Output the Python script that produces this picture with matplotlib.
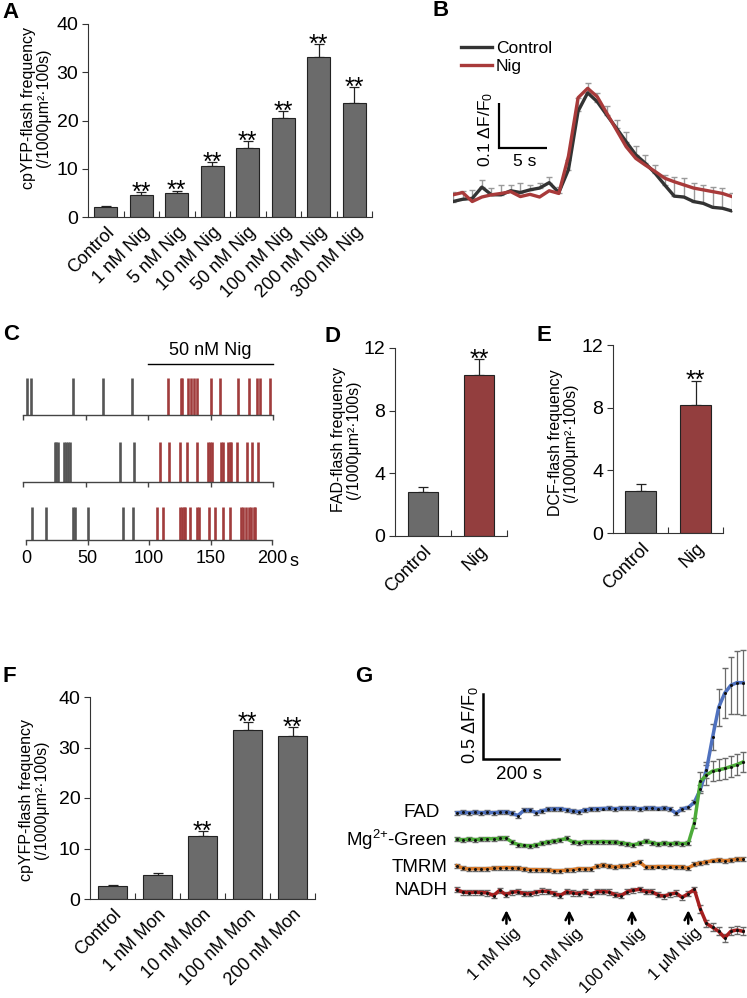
import numpy as np
import matplotlib.pyplot as plt

plt.rcParams['font.family'] = ['Liberation Sans', 'DejaVu Sans']
plt.rcParams['mathtext.fontset'] = 'custom'
plt.rcParams['mathtext.rm'] = 'Liberation Sans'
plt.rcParams['mathtext.it'] = 'Liberation Sans:italic'
plt.rcParams['mathtext.bf'] = 'Liberation Sans:bold'

W, H = 747, 998

# ---------------- data ----------------
# A: cpYFP flash frequency vs nigericin
a_labels = ['Control', '1 nM Nig', '5 nM Nig', '10 nM Nig', '50 nM Nig',
            '100 nM Nig', '200 nM Nig', '300 nM Nig']
a_values = [2.0, 4.6, 5.0, 10.5, 14.4, 20.6, 33.2, 23.7]
a_errors = [0.2, 0.5, 0.45, 0.8, 1.4, 1.4, 2.6, 3.3]
a_stars = [False, True, True, True, True, True, True, True]

# B: averaged flash traces (1 s sampling)
b_time = list(range(30))
b_control = [-0.011, -0.006, -0.004, 0.021, 0.004, 0.004, 0.013, 0.009, 0.015, 0.019,
             0.031, 0.009, 0.06, 0.19, 0.231, 0.211, 0.181, 0.152, 0.122, 0.093,
             0.074, 0.052, 0.026, 0.001, -0.001, -0.011, -0.015, -0.024, -0.026, -0.032]
b_nig = [0.004, 0.009, -0.011, -0.001, 0.004, 0.007, 0.011, 0.0, 0.005, -0.001,
         0.013, 0.007, 0.09, 0.22, 0.241, 0.222, 0.185, 0.148, 0.111, 0.085,
         0.070, 0.056, 0.041, 0.033, 0.026, 0.019, 0.015, 0.011, 0.007, 0.0]
b_control_err = [0.022, 0.019, 0.019, 0.016, 0.015, 0.022, 0.013, 0.021, 0.011, 0.011,
                 0.012, 0.013, 0.022, 0.030, 0.022, 0.019, 0.020, 0.019, 0.022, 0.019,
                 0.019, 0.019, 0.022, 0.043, 0.042, 0.041, 0.041, 0.046, 0.044, 0.041]

# C: flash event times (s) in three mitochondria
c_before = [[3, 6, 40, 64, 87],
            [25.3, 26.7, 28, 32.5, 34.4, 36.3, 37.9, 77.3, 89.1],
            [5.2, 16, 38.5, 39.9, 50.7, 78.7, 86.8]]
c_after = [[116, 126, 127.5, 132, 134, 136.5, 139.5, 150.5, 157.5, 172, 180.5, 187.5,
            189.5, 197.5],
           [109.3, 116.5, 125.9, 131.2, 139.2, 148, 149.9, 151.2, 158.7, 160, 164, 165.3,
            166.7, 171.2, 179.2, 183.2, 187.7],
           [106.4, 111, 125.4, 126.7, 128.1, 129.4, 133, 139, 140.8, 148.4, 153.9, 160.1,
            166.1, 174.8, 176.1, 178.8, 181, 182.9, 185.1, 186.4]]
c_ticks = [0, 50, 100, 150, 200]

# D / E
de_labels = ['Control', 'Nig']
d_values = [2.8, 10.3]
d_errors = [0.35, 1.0]
e_values = [2.7, 8.2]
e_errors = [0.44, 1.53]

# F: monensin
f_labels = ['Control', '1 nM Mon', '10 nM Mon', '100 nM Mon', '200 nM Mon']
f_values = [2.6, 4.8, 12.5, 33.5, 32.3]
f_errors = [0.12, 0.33, 1.0, 1.55, 1.7]
f_stars = [False, False, True, True, True]

# G: multi-parameter traces (16 s sampling)
g_time = np.arange(48) * 16
g_fad = [0.0, 0.002, 0.0, 0.003, 0.0, 0.002, 0.0, 0.003, 0.006, -0.004,
         -0.022, 0.018, 0.02, 0.0, 0.015, 0.026, 0.028, 0.03, 0.022, 0.012,
         0.008, 0.02, 0.026, 0.03, 0.032, 0.034, 0.03, 0.034, 0.036, 0.034,
         0.03, 0.034, 0.036, 0.032, 0.034, 0.03, -0.005, 0.03, 0.04, 0.08,
         0.18, 0.33, 0.58, 0.81, 0.92, 0.98, 1.0, 1.0]
g_fad_err = [0.015] * 40 + [0.03, 0.06, 0.1, 0.14, 0.19, 0.22, 0.24, 0.25]
g_mg = [0.005, 0.0, 0.008, 0.002, 0.006, 0.01, 0.008, 0.012, 0.018, -0.015,
        -0.035, -0.042, -0.046, -0.04, -0.025, -0.015, -0.008, 0.0, 0.012, -0.015,
        -0.02, -0.015, -0.013, -0.015, -0.012, -0.015, -0.018, -0.022, -0.03, -0.038,
        -0.025, -0.01, -0.02, -0.032, -0.025, -0.028, -0.026, -0.028, -0.026, 0.13,
        0.45, 0.5, 0.53, 0.54, 0.55, 0.565, 0.58, 0.6]
g_mg_err = [0.015] * 39 + [0.04, 0.07, 0.08, 0.08, 0.08, 0.08, 0.08, 0.08, 0.08]
g_tmrm = [0.01, -0.01, -0.015, -0.012, -0.015, -0.012, -0.01, -0.006, -0.004, -0.006,
          -0.01, -0.015, -0.02, -0.02, -0.022, -0.025, -0.028, -0.028, -0.025, -0.02,
          -0.012, -0.015, -0.015, 0.005, 0.015, 0.005, 0.0, 0.005, 0.01, 0.025,
          0.04, 0.0, 0.0, 0.004, 0.003, 0.004, 0.002, 0.0, -0.008, 0.02,
          0.03, 0.038, 0.05, 0.054, 0.048, 0.052, 0.06, 0.06]
g_tmrm_err = [0.015] * 48
g_nadh = [0.01, -0.01, -0.012, -0.01, -0.012, -0.015, -0.035, 0.005, -0.028, -0.01,
          -0.005, -0.02, -0.022, -0.01, 0.0, -0.005, -0.02, -0.035, -0.005, -0.015,
          -0.02, -0.005, -0.025, -0.005, -0.005, -0.008, -0.03, -0.035, -0.005, 0.005,
          0.013, -0.005, -0.005, -0.03, -0.04, -0.025, -0.015, -0.05, -0.02, 0.012,
          -0.14, -0.25, -0.28, -0.31, -0.36, -0.31, -0.3, -0.31]
g_nadh_err = [0.02] * 40 + [0.03] * 8
g_names = ['FAD', 'Mg$^{2{+}}$-Green', 'TMRM', 'NADH']
g_arrow_times = [130, 295, 460, 608]
g_arrow_labels = ['1 nM Nig', '10 nM Nig', '100 nM Nig', '1 μM Nig']

GRAY = '#6b6b6b'
RED = '#933e3e'
EDGE = '#222222'

fig = plt.figure(figsize=(W / 100, H / 100), dpi=100)


def add_ax(x0, y0, x1, y1):
    # axes from pixel box (top-left origin)
    return fig.add_axes([x0 / W, 1 - y1 / H, (x1 - x0) / W, (y1 - y0) / H])


def ftext(x, y, s, **kw):
    return fig.text(x / W, 1 - y / H, s, **kw)


def bar_panel(box, labels, values, errors, colors, stars, ymax, yticks,
              ylabel, ylab_xy, width):
    ax = add_ax(*box)
    n = len(values)
    x = np.arange(n)
    ax.bar(x, values, width=width, color=colors, edgecolor=EDGE, linewidth=0.8, zorder=2)
    ax.errorbar(x, values, yerr=[np.zeros(n), errors], fmt='none', ecolor=EDGE,
                elinewidth=0.9, capsize=3.5, capthick=0.9, zorder=1)
    for i in range(n):
        if stars[i]:
            ax.annotate('**', (i, values[i] + errors[i]), xytext=(0, -5.5),
                        textcoords='offset points', ha='center', va='baseline',
                        fontsize=18)
    ax.set_xlim(-0.5, n - 0.5)
    ax.set_ylim(0, ymax)
    ax.set_yticks(yticks)
    ax.set_xticks(x)
    ax.set_xticklabels(labels, rotation=45, ha='right', rotation_mode='anchor',
                       fontsize=13)
    ax.set_xticks(np.arange(0.5, n, 1), minor=True)
    ax.tick_params(axis='x', which='major', length=0, pad=5)
    ax.tick_params(axis='x', which='minor', direction='in', length=4, width=0.8,
                   color='#333333')
    ax.tick_params(axis='y', direction='out', length=4, width=0.8, labelsize=14,
                   pad=3, color='#333333')
    for s in ['top', 'right']:
        ax.spines[s].set_visible(False)
    for s in ['left', 'bottom']:
        ax.spines[s].set_linewidth(0.8)
        ax.spines[s].set_color('#333333')
    ax.set_ylabel(ylabel, fontsize=11.5, linespacing=1.05, va='center')
    ax.yaxis.set_label_coords(ylab_xy[0] / W, 1 - ylab_xy[1] / H,
                              transform=fig.transFigure)
    return ax


# ---------------- A ----------------
bar_panel((88, 24, 372, 217), a_labels, a_values, a_errors, GRAY, a_stars, 40,
          [0, 10, 20, 30, 40], 'cpYFP-flash frequency\n(/1000μm²·100s)', (36, 108),
          0.66)
ftext(2, 12, 'A', fontsize=16, fontweight='bold', va='center')

# ---------------- B ----------------
axb = add_ax(453, 60, 732, 215)
axb.errorbar(b_time, b_control, yerr=[np.zeros(len(b_time)), b_control_err],
             fmt='none', ecolor='#9a9a9a', elinewidth=1, capsize=2.5, capthick=1,
             zorder=1)
axb.plot(b_time, b_control, color='#333333', lw=2.4, label='Control', zorder=2,
         solid_joinstyle='round')
axb.plot(b_time, b_nig, color='#a83a3a', lw=2.4, label='Nig', zorder=3,
         solid_joinstyle='round')
axb.set_xlim(0, 29)
axb.set_ylim(-0.041, 0.304)
axb.axis('off')
axb.plot([4.8, 4.8, 9.8], [0.208, 0.108, 0.108], color='black', lw=1.6,
         solid_capstyle='butt', solid_joinstyle='miter', clip_on=False)
axb.text(3.4, 0.15, '0.1 ΔF/F$_0$', rotation=90, ha='center', va='center',
         fontsize=12.5)
axb.text(7.4, 0.077, '5 s', ha='center', va='center', fontsize=12.5)
axb.legend(loc='upper left', bbox_to_anchor=(461 / W, 1 - 41 / H),
           bbox_transform=fig.transFigure, frameon=False, fontsize=12.5,
           handlelength=1.8, handletextpad=0.2, labelspacing=0.15, borderpad=0,
           borderaxespad=0)
ftext(433, 11, 'B', fontsize=16, fontweight='bold', va='center')

# ---------------- C ----------------
c_boxes = [(23, 378, 273, 415), (23, 442, 273, 482), (26, 507, 272, 540)]
for k in range(3):
    ax = add_ax(*c_boxes[k])
    ax.vlines(c_before[k], 0, 1, color='#555555', lw=1.9)
    ax.vlines(c_after[k], 0, 1, color='#a03c3c', lw=1.9)
    ax.set_xlim(0, 200)
    ax.set_ylim(0, 1)
    ax.set_yticks([])
    ax.set_xticks(c_ticks)
    for s in ['top', 'right', 'left']:
        ax.spines[s].set_visible(False)
    ax.spines['bottom'].set_color('#444444')
    ax.spines['bottom'].set_linewidth(1)
    ax.tick_params(axis='x', direction='out', length=3.5, width=1, color='#444444',
                   labelsize=13, pad=4)
    if k < 2:
        ax.set_xticklabels([])
    else:
        ax.text(1.07, -0.38, 's', transform=ax.transAxes, fontsize=13, ha='left',
                va='top')
    if k == 0:
        ax.plot([100, 200], [1.38, 1.38], color='black', lw=1, clip_on=False)
        ax.text(150, 1.75, '50 nM Nig', ha='center', va='center', fontsize=13)
ftext(3, 334, 'C', fontsize=16, fontweight='bold', va='center')

# ---------------- D / E ----------------
bar_panel((395, 348, 507, 536), de_labels, d_values, d_errors, [GRAY, RED],
          [False, True], 12, [0, 4, 8, 12],
          'FAD-flash frequency\n(/1000μm²·100s)', (346, 440), 0.55)
ftext(325, 336, 'D', fontsize=16, fontweight='bold', va='center')
bar_panel((613, 345, 723, 533), de_labels, e_values, e_errors, [GRAY, RED],
          [False, True], 12, [0, 4, 8, 12],
          'DCF-flash frequency\n(/1000μm²·100s)', (563, 443), 0.57)
ftext(537, 335, 'E', fontsize=16, fontweight='bold', va='center')

# ---------------- F ----------------
bar_panel((90, 697, 315, 899), f_labels, f_values, f_errors, GRAY, f_stars, 40,
          [0, 10, 20, 30, 40], 'cpYFP-flash frequency\n(/1000μm²·100s)', (34, 800),
          0.63)
ftext(2, 676, 'F', fontsize=16, fontweight='bold', va='center')

# ---------------- G ----------------
axg = add_ax(457, 640, 743, 998)
g_series = [g_fad, g_mg, g_tmrm, g_nadh]
g_errs = [g_fad_err, g_mg_err, g_tmrm_err, g_nadh_err]
g_colors = ['#4f71be', '#4dab3a', '#d87a2b', '#a51f1f']
g_offsets = [0.0, -0.21, -0.418, -0.602]
g_label_x = [-44, -26, -26, -24]
for vals, errs, col, off, name, lx in zip(g_series, g_errs, g_colors, g_offsets,
                                          g_names, g_label_x):
    y = np.array(vals) + off
    axg.errorbar(g_time, y, yerr=errs, fmt='none', ecolor='#6a6a6a', elinewidth=0.9,
                 capsize=2, capthick=1, zorder=1, clip_on=False)
    axg.plot(g_time, y, color=col, lw=2.5, zorder=2, clip_on=False)
    axg.plot(g_time, y, 'o', color='#111111', ms=1.2, zorder=3, clip_on=False)
    axg.text(lx, off, name, ha='right', va='center', fontsize=13.5)
axg.set_xlim(0, 752)
axg.set_ylim(-1.425, 1.328)
axg.axis('off')
axg.plot([68, 68, 268], [0.913, 0.413, 0.413], color='black', lw=1.8,
         solid_joinstyle='miter')
axg.text(33, 0.675, '0.5 ΔF/F$_0$', rotation=90, ha='center', va='center',
         fontsize=13)
axg.text(163, 0.29, '200 s', ha='center', va='center', fontsize=13.5)
for t, lab in zip(g_arrow_times, g_arrow_labels):
    axg.annotate('', xy=(t, -0.728), xytext=(t, -0.875),
                 arrowprops=dict(arrowstyle='->', lw=1.8, color='black',
                                 mutation_scale=13))
    axg.text(t + 16, -0.865, lab, rotation=45, ha='right', va='top',
             rotation_mode='anchor', fontsize=12)
ftext(355, 676, 'G', fontsize=16, fontweight='bold', va='center')

fig.savefig('out.png', dpi=100, facecolor='white')
